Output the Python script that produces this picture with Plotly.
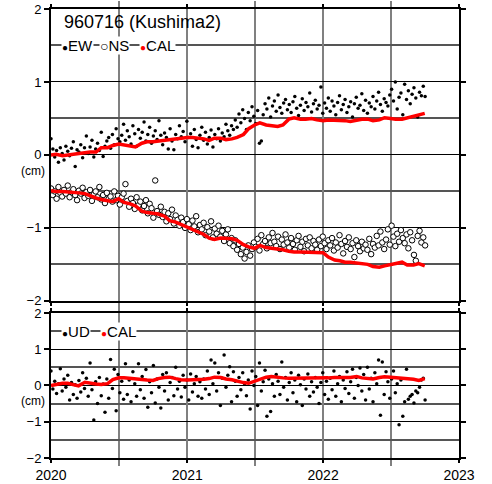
import pandas as pd
import plotly.graph_objects as go

# observation days (every 5 days) and the calibrated curve (twice a month)
days = pd.date_range("2020-01-01", periods=202, freq="5D")
cal_days = pd.date_range("2020-01-01", "2022-10-01", freq="SMS")

# east-west displacement (cm)
ew = [0.22, 0.08, -0.03, 0.06, -0.10, 0.10, 0.02, -0.07, 0.12, 0.05,
      -0.01, 0.09, 0.18, -0.16, 0.07, 0.04, 0.14, -0.04, 0.10, 0.26,
      0.02, 0.11, 0.20, -0.03, 0.08, 0.16, 0.06, 0.31, -0.02, 0.12,
      0.19, 0.24, 0.09, 0.28, 0.14, 0.36, 0.22, 0.18, 0.27, 0.42,
      0.20, 0.33, 0.25, 0.15, 0.40, 0.29, 0.12, 0.35, 0.23, 0.31,
      0.45, 0.19, 0.28, 0.38, 0.16, 0.26, 0.33, 0.21, 0.47, 0.27,
      0.14, 0.30, 0.24, 0.08, 0.36, 0.19, 0.07, 0.28, 0.22, 0.40,
      0.25, 0.32, 0.18, 0.46, 0.24, 0.29, 0.12, 0.35, 0.21, 0.10,
      0.27, 0.38, 0.20, 0.31, 0.15, 0.24, 0.34, 0.11, 0.28, 0.22,
      0.36, 0.19, 0.30, 0.25, 0.42, 0.33, 0.27, 0.40, 0.35, 0.48,
      0.38, 0.56, 0.44, 0.62, 0.50, 0.35, 0.58, 0.47, 0.66, 0.53,
      0.43, 0.61, 0.16, 0.19, 0.55, 0.70, 0.63, 0.78, 0.52, 0.67,
      0.74, 0.60, 0.82, 0.65, 0.57, 0.71, 0.76, 0.62, 0.69, 0.58,
      0.73, 0.80, 0.64, 0.54, 0.68, 0.77, 0.61, 0.72, 0.66, 0.85,
      0.59, 0.70, 0.75, 0.63, 0.68, 0.93, 0.57, 0.71, 0.64, 0.78,
      0.60, 0.74, 0.67, 0.55, 0.72, 0.81, 0.62, 0.69, 0.76, 0.58,
      0.66, 0.73, 0.52, 0.70, 0.79, 0.64, 0.68, 0.84, 0.61, 0.75,
      0.57, 0.71, 0.66, 0.80, 0.63, 0.74, 0.86, 0.69, 0.60, 0.77,
      0.72, 0.67, 0.82, 0.90, 0.74, 1.00, 0.63, 0.79, 0.85, 0.55,
      0.97, 0.76, 0.88, 0.70, 0.83, 0.92, 0.78, 0.52, 0.86, 0.81,
      0.94, 0.80]

# north-south displacement (cm)
ns = [-0.46, -0.55, -0.50, -0.60, -0.44, -0.52, -0.57, -0.48, -0.53, -0.42,
      -0.58, -0.51, -0.47, -0.55, -0.62, -0.49, -0.53, -0.45, -0.59, -0.51,
      -0.56, -0.48, -0.63, -0.54, -0.50, -0.58, -0.44, -0.61, -0.55, -0.66,
      -0.52, -0.60, -0.57, -0.64, -0.50, -0.62, -0.56, -0.68, -0.58, -0.53,
      -0.40, -0.63, -0.71, -0.60, -0.66, -0.74, -0.58, -0.69, -0.64, -0.76,
      -0.70, -0.62, -0.80, -0.67, -0.73, -0.86, -0.35, -0.77, -0.82, -0.71,
      -0.85, -0.78, -0.91, -0.80, -0.88, -0.75, -0.94, -0.83, -0.89, -0.97,
      -0.86, -0.92, -1.00, -0.88, -0.95, -1.03, -0.90, -0.98, -0.84, -1.06,
      -0.96, -1.02, -0.93, -1.10, -0.99, -1.05, -0.91, -1.13, -1.01, -1.08,
      -0.97, -1.12, -1.04, -1.18, -1.09, -1.02, -1.21, -1.14, -1.25, -1.17,
      -1.30, -1.22, -1.36, -1.27, -1.42, -1.33, -1.24, -1.38, -1.29, -1.20,
      -1.26, -1.15, -1.31, -1.10, -1.22, -1.18, -1.28, -1.13, -1.21, -1.07,
      -1.19, -1.25, -1.12, -1.29, -1.16, -1.23, -1.09, -1.20, -1.27, -1.14,
      -1.22, -1.30, -1.17, -1.11, -1.26, -1.19, -1.32, -1.15, -1.24, -1.13,
      -1.28, -1.18, -1.23, -1.30, -1.16, -1.25, -1.12, -1.21, -1.29, -1.17,
      -1.24, -1.14, -1.31, -1.20, -1.27, -1.10, -1.22, -1.35, -1.18, -1.26,
      -1.13, -1.29, -1.21, -1.40, -1.17, -1.25, -1.32, -1.19, -1.28, -1.23,
      -1.30, -1.15, -1.36, -1.22, -1.27, -1.11, -1.24, -1.05, -1.20, -1.29,
      -1.16, -1.02, -1.23, -0.97, -1.12, -1.25, -1.08, -1.19, -1.03, -1.14,
      -1.21, -1.09, -1.28, -1.06, -1.17, -1.37, -1.45, -1.11, -1.04, -1.20,
      -1.13, -1.24]

# up-down displacement (cm)
ud = [0.40, -0.10, 0.12, -0.22, 0.05, 0.46, -0.15, 0.18, -0.05, 0.28,
      -0.40, 0.08, -0.25, 0.02, -0.35, 0.14, -0.18, 0.35, -0.08, 0.20,
      -0.30, 0.62, -0.12, -0.95, 0.10, -0.50, 0.22, -0.28, 0.04, -0.74,
      0.18, -0.35, 0.72, -0.08, 0.45, -0.70, 0.30, -0.20, 0.12, -0.38,
      0.60, -0.25, 0.15, -0.45, 0.38, 0.05, -0.30, 0.60, -0.12, 0.25,
      -0.35, 0.44, -0.60, 0.10, -0.20, 0.55, -0.48, 0.18, -0.05, -0.62,
      0.30, -0.15, 0.35, -0.40, 0.08, 0.22, -0.28, 0.50, -0.10, 0.12,
      -0.32, 0.28, -0.05, 0.15, -0.40, 0.32, -0.18, 0.05, 0.25, -0.30,
      0.10, -0.35, 0.18, -0.10, 0.40, -0.25, 0.70, 0.05, 0.62, -0.15,
      0.35, -0.55, 0.20, 0.84, -0.05, 0.28, 0.52, -0.45, 0.38, 0.12,
      -0.30, 0.22, -0.12, 0.35, 0.05, -0.28, 0.15, -0.65, 0.40, 0.00,
      0.25, -0.55, 0.62, -0.15, 0.10, 0.42, -0.85, 0.18, -0.72, 0.05,
      -0.30, 0.30, 0.12, -0.25, 0.65, -0.05, 0.22, -0.40, 0.08, 0.35,
      -0.20, 0.15, -0.45, 0.28, 0.02, -0.55, 0.18, -0.10, 0.32, -0.30,
      0.10, -0.18, 0.22, -0.05, -0.50, 0.08, 0.35, -0.25, 0.12, -0.38,
      0.20, -0.12, 0.40, -0.30, 0.05, 0.25, -0.45, 0.15, -0.08, 0.38,
      -0.22, 0.10, 0.45, -0.35, 0.22, 0.00, 0.48, -0.15, 0.30, -0.40,
      0.50, -0.10, 0.20, -0.45, 0.35, 0.05, 0.70, -0.82, 0.65, -0.25,
      0.38, 0.10, -0.35, 0.18, 0.40, -0.20, 0.05, -1.08, 0.15, -0.85,
      -0.45, 0.45, -0.38, -0.30, -0.25, -0.48, -0.15, -0.20, -0.05, 0.15,
      0.20, -0.40]

# calibrated (smoothed) curves
cal_ew = [0.00, 0.01, -0.01, 0.00, 0.02, 0.02, 0.03, 0.04, 0.04, 0.10, 0.10, 0.13,
          0.15, 0.14, 0.12, 0.11, 0.16, 0.18, 0.18, 0.19, 0.20, 0.21, 0.22, 0.23,
          0.24, 0.24, 0.23, 0.22, 0.20, 0.23, 0.23, 0.21, 0.22, 0.24, 0.28, 0.36,
          0.41, 0.44, 0.41, 0.40, 0.39, 0.41, 0.49, 0.51, 0.49, 0.49, 0.50, 0.48,
          0.47, 0.48, 0.48, 0.47, 0.47, 0.46, 0.48, 0.49, 0.49, 0.47, 0.48, 0.51,
          0.50, 0.49, 0.49, 0.51, 0.53, 0.55, 0.57]
cal_ns = [-0.49, -0.50, -0.50, -0.51, -0.51, -0.52, -0.53, -0.56, -0.59, -0.61, -0.63, -0.64,
          -0.60, -0.65, -0.67, -0.70, -0.77, -0.79, -0.80, -0.81, -0.84, -0.90, -0.92, -0.95,
          -0.99, -1.02, -1.05, -1.09, -1.14, -1.16, -1.14, -1.14, -1.15, -1.17, -1.23, -1.26,
          -1.28, -1.24, -1.27, -1.28, -1.29, -1.30, -1.32, -1.33, -1.33, -1.33, -1.33, -1.33,
          -1.34, -1.40, -1.44, -1.45, -1.47, -1.47, -1.48, -1.48, -1.50, -1.53, -1.54, -1.52,
          -1.50, -1.48, -1.47, -1.51, -1.51, -1.49, -1.52]
cal_ud = [0.00, 0.03, 0.06, 0.06, 0.02, -0.01, 0.09, 0.06, 0.04, 0.03, 0.05, 0.16,
          0.21, 0.21, 0.19, 0.17, 0.16, 0.15, 0.14, 0.19, 0.22, 0.23, 0.19, 0.16,
          0.15, 0.15, 0.16, 0.17, 0.19, 0.23, 0.22, 0.18, 0.16, 0.12, 0.08, 0.06,
          0.12, 0.17, 0.23, 0.25, 0.22, 0.21, 0.20, 0.20, 0.19, 0.19, 0.20, 0.20,
          0.19, 0.21, 0.22, 0.21, 0.22, 0.22, 0.25, 0.21, 0.20, 0.18, 0.22, 0.24,
          0.23, 0.22, 0.20, 0.18, 0.17, 0.14, 0.19]

font = "Liberation Sans, Arial, sans-serif"

fig = go.Figure()
# top panel: EW and NS
fig.add_trace(go.Scatter(x=days, y=ew, mode="markers", xaxis="x", yaxis="y",
                         marker=dict(color="black", size=3.5)))
fig.add_trace(go.Scatter(x=days, y=ns, mode="markers", xaxis="x", yaxis="y",
                         marker=dict(color="white", size=5.5, line=dict(color="black", width=1))))
fig.add_trace(go.Scatter(x=cal_days, y=cal_ew, mode="lines", xaxis="x", yaxis="y",
                         line=dict(color="red", width=3.5)))
fig.add_trace(go.Scatter(x=cal_days, y=cal_ns, mode="lines", xaxis="x", yaxis="y",
                         line=dict(color="red", width=3.5)))
# bottom panel: UD
fig.add_trace(go.Scatter(x=days, y=ud, mode="markers", xaxis="x2", yaxis="y2",
                         marker=dict(color="black", size=3.5)))
fig.add_trace(go.Scatter(x=cal_days, y=cal_ud, mode="lines", xaxis="x2", yaxis="y2",
                         line=dict(color="red", width=3.5)))

xcommon = dict(range=["2020-01-01", "2023-01-01"], dtick="M12", tickformat="%Y",
               showline=True, linecolor="black", linewidth=2, mirror="ticks",
               ticks="outside", ticklen=3, tickcolor="black", tickwidth=2,
               showgrid=True, gridcolor="#808080", gridwidth=2,
               minor=dict(dtick="M6", showgrid=True, gridcolor="#808080", gridwidth=2,
                          ticks="outside", ticklen=6, tickcolor="#808080", tickwidth=2),
               zeroline=False, automargin=False,
               tickfont=dict(family=font, size=14, color="black"))
ycommon = dict(range=[-2, 2], dtick=1, showline=True, linecolor="black", linewidth=2,
               mirror="ticks", ticks="outside", ticklen=5, tickcolor="black", tickwidth=1.5,
               showgrid=True, gridcolor="black", gridwidth=1.3,
               minor=dict(dtick=0.5, showgrid=True, gridcolor="#555555", gridwidth=1.6),
               zeroline=False, automargin=False,
               tickfont=dict(family=font, size=13, color="black"))

fig.update_layout(
    width=492, height=484,
    margin=dict(l=51, r=33, t=9, b=26),
    paper_bgcolor="white", plot_bgcolor="white",
    showlegend=False,
    xaxis=dict(xcommon, anchor="y", showticklabels=False, matches="x2"),
    yaxis=dict(ycommon, domain=[0.35, 1.0], anchor="x"),
    xaxis2=dict(xcommon, anchor="y2"),
    yaxis2=dict(ycommon, domain=[0.0, 0.323], anchor="x2"),
)

ann = dict(showarrow=False, font=dict(family=font, size=15, color="black"),
           xanchor="left", yanchor="middle", bgcolor="white", borderpad=0)
dot = "<span style='font-size:10px'>●</span>"
red_dot = "<span style='font-size:10px;color:red'>●</span>"
ring = "<span style='font-size:14px'>○</span>"
fig.add_annotation(ann, text="960716 (Kushima2)", xref="x domain", yref="y",
                   x=0.03, y=1.82, font=dict(family=font, size=18, color="black"),
                   bgcolor="rgba(0,0,0,0)")
fig.add_annotation(ann, text=dot + "EW", xref="x domain", yref="y", x=0.024, y=1.5)
fig.add_annotation(ann, text=ring + "NS", xref="x domain", yref="y", x=0.118, y=1.5)
fig.add_annotation(ann, text=red_dot + "CAL", xref="x domain", yref="y", x=0.215, y=1.5)
fig.add_annotation(ann, text=dot + "UD", xref="x2 domain", yref="y2", x=0.024, y=1.5)
fig.add_annotation(ann, text=red_dot + "CAL", xref="x2 domain", yref="y2", x=0.12, y=1.5)
for ref, yv in (("y", -0.22), ("y2", -0.42)):
    fig.add_annotation(text="(cm)", xref="paper", yref=ref, x=-0.045, y=yv,
                       showarrow=False, xanchor="center", yanchor="middle",
                       font=dict(family=font, size=12, color="black"))

# drop the default page margin so the figure sits at the window corner
fig.write_html("out.html", config={"displayModeBar": False},
               post_script="document.body.style.margin='0';")
